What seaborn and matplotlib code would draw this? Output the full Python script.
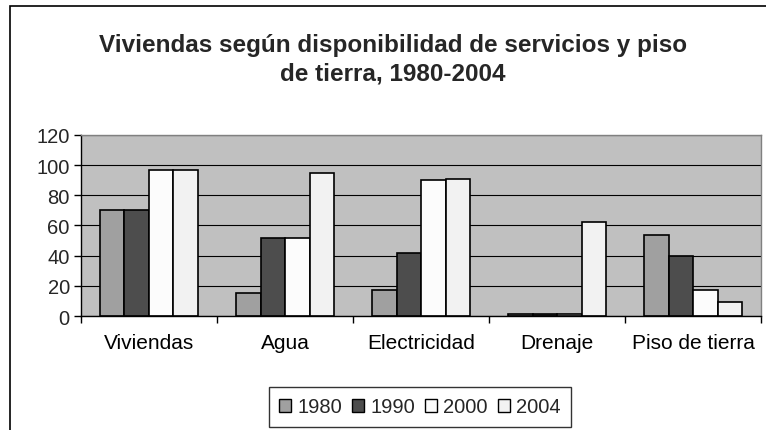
import matplotlib
matplotlib.use("Agg")
import matplotlib.pyplot as plt
import matplotlib.patches as mpatches
import pandas as pd
import seaborn as sns

# values
categories = ['Viviendas', 'Agua', 'Electricidad', 'Drenaje', 'Piso de tierra']
years = ['1980', '1990', '2000', '2004']
v1980 = [70, 15, 17, 1, 54]
v1990 = [70, 52, 42, 1, 40]
v2000 = [97, 52, 90, 1, 17]
v2004 = [97, 95, 91, 62, 9]

colors = ['#A0A0A0', '#4D4D4D', '#FCFCFC', '#F2F2F2']

rows = []
for year, vals in zip(years, [v1980, v1990, v2000, v2004]):
    for cat, v in zip(categories, vals):
        rows.append({'Categoria': cat, 'Año': year, 'Valor': v})
df = pd.DataFrame(rows)

sns.set_theme(style='white')
plt.rcParams['font.family'] = ['Liberation Sans', 'DejaVu Sans']

fig = plt.figure(figsize=(7.66, 4.31), dpi=100)
fig.patch.set_facecolor('white')
ax = fig.add_axes([0.1057, 0.2645, 0.888, 0.42])

sns.barplot(data=df, x='Categoria', y='Valor', hue='Año', hue_order=years,
            order=categories, palette=colors, width=0.72, saturation=1,
            edgecolor='black', linewidth=1.2, legend=False, ax=ax)

ax.set_facecolor('#C0C0C0')
ax.set_ylim(0, 120)
ax.set_yticks(range(0, 121, 20))
ax.set_xlim(-0.5, 4.5)
ax.yaxis.grid(True, color='black', linewidth=0.8)
ax.set_axisbelow(True)
ax.set_xlabel('')
ax.set_ylabel('')

# ticks between categories like Excel
ax.set_xticks([-0.5, 0.5, 1.5, 2.5, 3.5, 4.5], minor=True)
ax.tick_params(axis='x', which='major', length=0, labelsize=15, pad=12, colors='black')
ax.tick_params(axis='x', which='minor', length=5, width=1, color='black', direction='out', bottom=True)
ax.tick_params(axis='y', length=5, width=1, color='black', direction='out', labelsize=14.5, pad=3, left=True)

for side in ['left', 'bottom']:
    ax.spines[side].set_color('black')
    ax.spines[side].set_linewidth(1)
for side in ['top', 'right']:
    ax.spines[side].set_color('#808080')
    ax.spines[side].set_linewidth(1)

fig.text(0.513, 0.862, 'Viviendas según disponibilidad de servicios y piso\nde tierra, 1980-2004',
         ha='center', va='center', fontsize=17.5, fontweight='bold', linespacing=1.3)

# legend
handles = [mpatches.Patch(facecolor=c, edgecolor='black', linewidth=1, label=y)
           for c, y in zip(colors, years)]
leg = fig.legend(handles=handles, loc='center', bbox_to_anchor=(0.548, 0.0534), ncol=4,
                 fontsize=14.5, frameon=True, fancybox=False, handlelength=0.6, handleheight=0.6,
                 handletextpad=0.3, columnspacing=0.5, borderpad=0.5)
leg.get_frame().set_edgecolor('black')
leg.get_frame().set_linewidth(1)

# outer chart frame (cut off at the right and bottom in the reference)
frame = mpatches.Rectangle((10 / 766, -0.1), 1.2, 1 - 7 / 431 + 0.1, transform=fig.transFigure,
                           fill=False, edgecolor='black', linewidth=1.2)
fig.patches.append(frame)

fig.savefig('out.png', dpi=100)
